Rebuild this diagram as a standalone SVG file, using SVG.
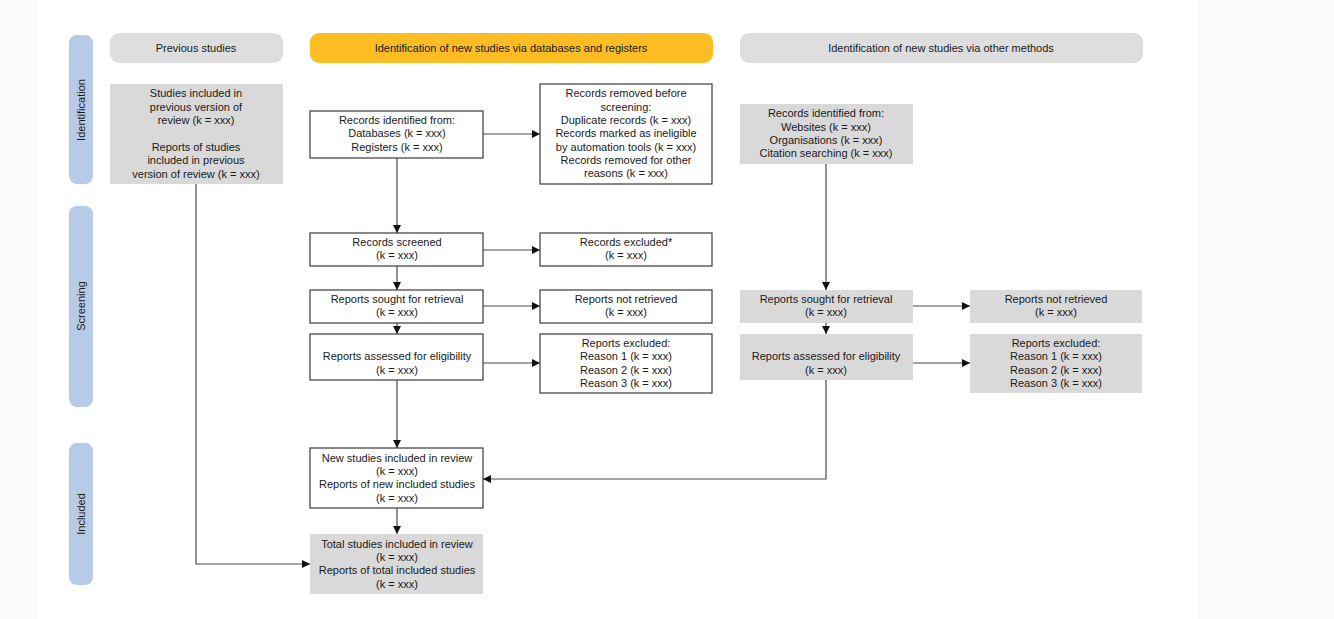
<svg xmlns="http://www.w3.org/2000/svg" width="1334" height="619" viewBox="0 0 1334 619">
  <style>
    text { font-family: "Liberation Sans", Arial, sans-serif; font-size: 11px; fill: #1a1a1a; text-anchor: middle; }
    .box { fill: #ffffff; stroke: #3a3a3a; stroke-width: 1.2; }
    .gbox { fill: #d9d9d9; stroke: none; }
    .phase { fill: #b7cbe9; }
    .head { fill: #dedede; }
    .headY { fill: #fbbd23; }
    .conn { fill: none; stroke: #4a4a4a; stroke-width: 1.2; }
  </style>
  <defs>
    <marker id="arrow" viewBox="0 0 10 10" refX="10" refY="5" markerWidth="8" markerHeight="8" markerUnits="userSpaceOnUse" orient="auto">
      <path d="M0,0 L10,5 L0,10 z" fill="#111"/>
    </marker>
  </defs>

  <!-- page -->
  <rect x="0" y="0" width="1334" height="619" fill="#fafafa"/>
  <rect x="37" y="0" width="1160" height="619" fill="#ffffff"/>

  <!-- phase labels -->
  <g id="phase-identification">
    <rect class="phase" x="69" y="35" width="24" height="149" rx="8"/>
    <text transform="translate(85,110) rotate(-90)">Identification</text>
  </g>
  <g id="phase-screening">
    <rect class="phase" x="69" y="206" width="24" height="201" rx="8"/>
    <text transform="translate(85,306) rotate(-90)">Screening</text>
  </g>
  <g id="phase-included">
    <rect class="phase" x="69" y="443" width="24" height="142" rx="8"/>
    <text transform="translate(85,514) rotate(-90)">Included</text>
  </g>

  <!-- column headers -->
  <g id="head-previous">
    <rect class="head" x="110" y="33" width="173" height="30" rx="9"/>
    <text x="196" y="52">Previous studies</text>
  </g>
  <g id="head-databases">
    <rect class="headY" x="310" y="33" width="403" height="30" rx="9"/>
    <text x="511" y="52">Identification of new studies via databases and registers</text>
  </g>
  <g id="head-other">
    <rect class="head" x="740" y="33" width="403" height="30" rx="9"/>
    <text x="941" y="52">Identification of new studies via other methods</text>
  </g>

  <!-- connectors -->
  <g id="connectors">
    <line class="conn" x1="483" y1="134" x2="540" y2="134" marker-end="url(#arrow)"/>
    <line class="conn" x1="397" y1="158" x2="397" y2="233" marker-end="url(#arrow)"/>
    <line class="conn" x1="483" y1="250" x2="540" y2="250" marker-end="url(#arrow)"/>
    <line class="conn" x1="397" y1="266" x2="397" y2="290" marker-end="url(#arrow)"/>
    <line class="conn" x1="483" y1="306" x2="540" y2="306" marker-end="url(#arrow)"/>
    <line class="conn" x1="397" y1="323" x2="397" y2="334" marker-end="url(#arrow)"/>
    <line class="conn" x1="483" y1="363" x2="540" y2="363" marker-end="url(#arrow)"/>
    <line class="conn" x1="397" y1="380" x2="397" y2="448" marker-end="url(#arrow)"/>
    <line class="conn" x1="397" y1="508" x2="397" y2="534" marker-end="url(#arrow)"/>
    <polyline class="conn" points="196,184 196,564 310,564" marker-end="url(#arrow)"/>
    <line class="conn" x1="826" y1="164" x2="826" y2="290" marker-end="url(#arrow)"/>
    <line class="conn" x1="913" y1="306" x2="970" y2="306" marker-end="url(#arrow)"/>
    <line class="conn" x1="826" y1="323" x2="826" y2="334" marker-end="url(#arrow)"/>
    <line class="conn" x1="913" y1="363" x2="970" y2="363" marker-end="url(#arrow)"/>
    <polyline class="conn" points="826,380 826,479 483,479" marker-end="url(#arrow)"/>
  </g>

  <!-- previous studies -->
  <g id="previous-included">
    <rect class="gbox" x="110" y="84" width="173" height="100"/>
    <text x="196" y="97">Studies included in</text>
    <text x="196" y="111">previous version of</text>
    <text x="196" y="124">review (k = xxx)</text>
    <text x="196" y="151">Reports of studies</text>
    <text x="196" y="164">included in previous</text>
    <text x="196" y="178">version of review (k = xxx)</text>
  </g>

  <!-- databases and registers -->
  <g id="records-identified">
    <rect class="box" x="310" y="111" width="173" height="47"/>
    <text x="397" y="124">Records identified from:</text>
    <text x="397" y="137">Databases (k = xxx)</text>
    <text x="397" y="151">Registers (k = xxx)</text>
  </g>
  <g id="records-removed">
    <rect class="box" x="540" y="84" width="172" height="100"/>
    <text x="626" y="97">Records removed before</text>
    <text x="626" y="111">screening:</text>
    <text x="626" y="124">Duplicate records (k = xxx)</text>
    <text x="626" y="137">Records marked as ineligible</text>
    <text x="626" y="151">by automation tools (k = xxx)</text>
    <text x="626" y="164">Records removed for other</text>
    <text x="626" y="177">reasons (k = xxx)</text>
  </g>
  <g id="records-screened">
    <rect class="box" x="310" y="233" width="173" height="33"/>
    <text x="397" y="246">Records screened</text>
    <text x="397" y="259">(k = xxx)</text>
  </g>
  <g id="records-excluded">
    <rect class="box" x="540" y="233" width="172" height="33"/>
    <text x="626" y="246">Records excluded*</text>
    <text x="626" y="259">(k = xxx)</text>
  </g>
  <g id="reports-sought">
    <rect class="box" x="310" y="290" width="173" height="33"/>
    <text x="397" y="303">Reports sought for retrieval</text>
    <text x="397" y="316">(k = xxx)</text>
  </g>
  <g id="reports-not-retrieved">
    <rect class="box" x="540" y="290" width="172" height="33"/>
    <text x="626" y="303">Reports not retrieved</text>
    <text x="626" y="316">(k = xxx)</text>
  </g>
  <g id="reports-assessed">
    <rect class="box" x="310" y="334" width="173" height="46"/>
    <text x="397" y="360">Reports assessed for eligibility</text>
    <text x="397" y="374">(k = xxx)</text>
  </g>
  <g id="reports-excluded">
    <rect class="box" x="540" y="334" width="172" height="59"/>
    <text x="626" y="347">Reports excluded:</text>
    <text x="626" y="360">Reason 1 (k = xxx)</text>
    <text x="626" y="374">Reason 2 (k = xxx)</text>
    <text x="626" y="387">Reason 3 (k = xxx)</text>
  </g>
  <g id="new-included">
    <rect class="box" x="310" y="448" width="173" height="60"/>
    <text x="397" y="462">New studies included in review</text>
    <text x="397" y="475">(k = xxx)</text>
    <text x="397" y="488">Reports of new included studies</text>
    <text x="397" y="502">(k = xxx)</text>
  </g>
  <g id="total-included">
    <rect class="gbox" x="310" y="534" width="173" height="60"/>
    <text x="397" y="548">Total studies included in review</text>
    <text x="397" y="561">(k = xxx)</text>
    <text x="397" y="574">Reports of total included studies</text>
    <text x="397" y="588">(k = xxx)</text>
  </g>

  <!-- other methods -->
  <g id="other-identified">
    <rect class="gbox" x="740" y="104" width="173" height="60"/>
    <text x="826" y="117">Records identified from:</text>
    <text x="826" y="131">Websites (k = xxx)</text>
    <text x="826" y="144">Organisations (k = xxx)</text>
    <text x="826" y="157">Citation searching (k = xxx)</text>
  </g>
  <g id="other-sought">
    <rect class="gbox" x="740" y="290" width="173" height="33"/>
    <text x="826" y="303">Reports sought for retrieval</text>
    <text x="826" y="316">(k = xxx)</text>
  </g>
  <g id="other-not-retrieved">
    <rect class="gbox" x="970" y="290" width="172" height="33"/>
    <text x="1056" y="303">Reports not retrieved</text>
    <text x="1056" y="316">(k = xxx)</text>
  </g>
  <g id="other-assessed">
    <rect class="gbox" x="740" y="334" width="173" height="46"/>
    <text x="826" y="360">Reports assessed for eligibility</text>
    <text x="826" y="374">(k = xxx)</text>
  </g>
  <g id="other-excluded">
    <rect class="gbox" x="970" y="334" width="172" height="59"/>
    <text x="1056" y="347">Reports excluded:</text>
    <text x="1056" y="360">Reason 1 (k = xxx)</text>
    <text x="1056" y="374">Reason 2 (k = xxx)</text>
    <text x="1056" y="387">Reason 3 (k = xxx)</text>
  </g>
</svg>
